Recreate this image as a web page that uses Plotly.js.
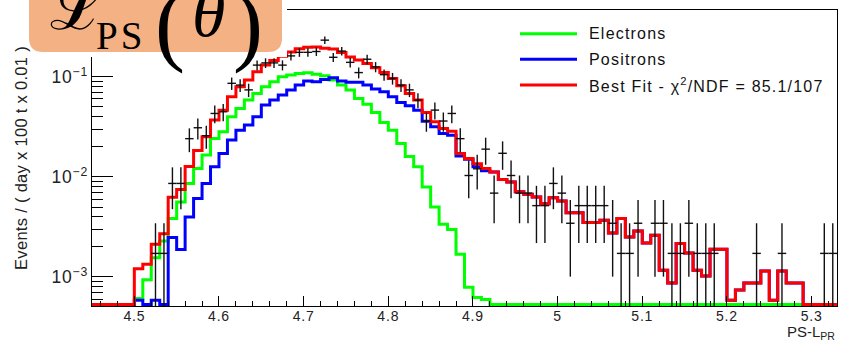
<!DOCTYPE html>
<html><head><meta charset="utf-8">
<script src="https://cdn.plot.ly/plotly-3.0.1.min.js"></script>
<style>
html,body{margin:0;padding:0;background:#fff;}
#chart{width:850px;height:343px;}
g.annotation[data-index="0"] text, g.annotation[data-index="1"] text, g.annotation[data-index="2"] text {letter-spacing:1.2px;}
g.annotation[data-index="4"] text {letter-spacing:3px;}
.xtick text, .ytick text {letter-spacing:0.8px;}
.ytitle {letter-spacing:0.3px;}
</style>
</head><body><div id="chart"></div>
<script>
// ---- data (bins of width 0.01 starting at 4.45) ----
const binStart = 4.45;
const binWidth = 0.01;
const electrons = [
  0,0,0,0,0, 0.00061,0.00094,0.00156,0.00229,0.00384,
  0.00562,0.00859,0.0121,0.0165,0.0242, 0.0282,0.0398,0.0483,0.0585,0.068,
  0.0794,0.0891,0.100,0.104,0.108, 0.1096,0.1057,0.1023,0.0927,0.0826,
  0.0736,0.0608,0.053,0.044,0.035, 0.0293,0.0216,0.0160,0.0126,0.00794,
  0.0050,0.00337,0.00298,0.00169,0.00079, 0.000622,0.000594,0,0,0,
  0,0,0,0,0, 0,0,0,0,0,
  0,0,0,0,0, 0,0,0,0,0,
  0,0,0,0,0, 0,0,0,0,0,
  0,0,0,0,0, 0,0,0
];
const positrons = [
  0,0,0,0,0, 0.000585,0,0.000585,0,0.00248,
  0.00188,0.00398,0.00608,0.00859,0.0126, 0.0171,0.0233,0.0293,0.0329,0.0398,
  0.0521,0.0585,0.0656,0.0736,0.0826, 0.0906,0.0891,0.094,0.0977,0.0906,
  0.0879,0.0879,0.0826,0.0753,0.0708, 0.063,0.0554,0.0513,0.0464,0.036,
  0.0316,0.0271,0.0261,0.0162,0.0150, 0.0126,0.0115,0.0112,0.0094,0.0089,
  0.0071,0.0067,0.0063,0.0054,0.0062, 0.00575,0.00437,0.00437,0.0035,0.0035,
  0.00369,0.00275,0.00384,0.00251,0.00288, 0.00219,0.00261,0.00117,0.00087,0.00216,
  0.00174,0.00117,0.00102,0.00189,0.00189, 0.000585,0.00074,0.00087,0.00087,0.00115,
  0.000585,0.00115,0.00087,0.00087,0, 0,0,0
];
const bestFit = [
  0,0,0,0,0, 0.00121,0.00134,0.00212,0.00270,0.00625,
  0.00748,0.0127,0.0183,0.0251,0.0369, 0.0464,0.0631,0.0794,0.0927,0.112,
  0.131,0.145,0.160,0.177,0.190, 0.197,0.198,0.193,0.189,0.175,
  0.158,0.147,0.136,0.123,0.110, 0.0963,0.0813,0.0682,0.0585,0.044,
  0.0355,0.0305,0.0286,0.0171,0.0153, 0.0135,0.0121,0.0112,0.0094,0.0089,
  0.0071,0.0067,0.0063,0.0054,0.0062, 0.00575,0.00437,0.00437,0.0035,0.0035,
  0.00369,0.00275,0.00384,0.00251,0.00288, 0.00219,0.00261,0.00117,0.00087,0.00216,
  0.00174,0.00117,0.00102,0.00189,0.00189, 0.000585,0.00074,0.00087,0.00087,0.00115,
  0.000585,0.00115,0.00087,0.00087,0, 0,0,0
];
// observed events per bin (counts); one count = countScale in plotted units
const dataCounts = [
  0,0,0,0,0, 0,0,1,1,5,
  5,14,18,15,25, 26,50,48,43,76,
  80,80,76,94,102, 102,104,135,91,105,
  81,64,87,73,61, 56,48,43,34,21,
  27,21,25,14,6, 7,11,4,10,6,
  4,4,3,3,5, 4,2,3,3,3,
  3,2,1,1,2, 0,2,2,1,1,
  2,1,1,1,0, 0,0,0,1,0,
  0,1,0,0,0, 0,1,1
];
const countScale = 0.00172;
const seriesNames = ['Electrons', 'Positrons', 'Best Fit - \u03c7<sup>2</sup>/NDF = 85.1/107'];
const seriesColors = ['#00ff00', '#0000ff', '#ff0000'];
const yTitle = 'Events / ( day x 100 t x 0.01 )';
const xTitle = 'PS-L<sub>PR</sub>';

// ---- geometry ----
const W = 850, H = 343;
const PL = 92, PR = 837, PT = 10, PB = 306;
const yLogMin = -3.29, yLogMax = -0.333;
const floorVal = Math.pow(10, -3.275);
const px = p => (p - PL) / (PR - PL);
const py = p => (PB - p) / (PB - PT);

const nb = bestFit.length;
const edges = [];
for (let i = 0; i <= nb; i++) edges.push(+(binStart + i * binWidth).toFixed(4));
const centers = [];
for (let i = 0; i < nb; i++) centers.push(+(binStart + (i + 0.5) * binWidth).toFixed(4));

function stepTrace(vals, color, name) {
  const y = vals.map(v => (v > floorVal ? v : floorVal));
  y.push(y[y.length - 1]);
  return {x: edges, y: y, type: 'scatter', mode: 'lines', name: name,
    line: {shape: 'hv', color: color, width: 3}, hoverinfo: 'skip', showlegend: false};
}

const traces = [
  stepTrace(electrons, seriesColors[0], seriesNames[0]),
  stepTrace(positrons, seriesColors[1], seriesNames[1]),
  stepTrace(bestFit, seriesColors[2], seriesNames[2]),
  {
    x: centers,
    y: dataCounts.map(n => (n > 0 ? n * countScale : null)),
    type: 'scatter', mode: 'markers', name: 'Data', showlegend: false,
    marker: {size: 1, color: '#000'},
    error_y: {type: 'data', array: dataCounts.map(n => Math.sqrt(n) * countScale),
      arrayminus: dataCounts.map(n => Math.sqrt(n) * countScale),
      color: '#111', thickness: 1.4, width: 0},
    error_x: {type: 'constant', value: binWidth / 2, color: '#111', thickness: 1.4, width: 0}
  }
];

const font = 'Liberation Sans, Arial, sans-serif';
const serif = 'Liberation Serif, DejaVu Serif, serif';

const shapes = [];
const annotations = [];
// legend (drawn inside the frame)
const legY = [33.7, 59.3, 85];
for (let i = 0; i < 3; i++) {
  shapes.push({type: 'line', xref: 'paper', yref: 'paper', x0: px(520), x1: px(577),
    y0: py(legY[i]), y1: py(legY[i]), line: {color: seriesColors[i], width: 3}, layer: 'above'});
  annotations.push({xref: 'paper', yref: 'paper', x: px(587), y: py(legY[i]), xanchor: 'left', align: 'left',
    yanchor: 'middle', text: seriesNames[i], showarrow: false,
    font: {family: font, size: 16, color: '#111'}});
}
// overlay label box
shapes.push({type: 'rect', xref: 'paper', yref: 'paper', x0: px(29), x1: px(287), y0: py(57), y1: py(-5),
  fillcolor: '#ffffff', line: {width: 0}, layer: 'above'});
const bx0 = 29, bx1 = 282, by1 = 52, r = 14;
shapes.push({type: 'path', xref: 'paper', yref: 'paper', layer: 'above', fillcolor: '#F4B183', line: {width: 0},
  path: `M ${px(bx0)} ${py(-5)} L ${px(bx0)} ${py(by1 - r)} Q ${px(bx0)} ${py(by1)} ${px(bx0 + r)} ${py(by1)} ` +
        `L ${px(bx1 - r)} ${py(by1)} Q ${px(bx1)} ${py(by1)} ${px(bx1)} ${py(by1 - r)} L ${px(bx1)} ${py(-5)} Z`});
annotations.push({xref: 'paper', yref: 'paper', x: px(48), y: py(47), xanchor: 'left', yanchor: 'bottom',
  text: '\u2112', showarrow: false, font: {family: 'DejaVu Serif, serif', size: 66, color: '#000'}});
annotations.push({xref: 'paper', yref: 'paper', x: px(94), y: py(59), xanchor: 'left', align: 'left', yanchor: 'bottom',
  text: 'PS', showarrow: false, font: {family: serif, size: 39, color: '#000'}});
annotations.push({xref: 'paper', yref: 'paper', x: px(170), y: py(76), xanchor: 'center', yanchor: 'bottom',
  text: '(', showarrow: false, font: {family: serif, size: 90, color: '#000'}});
annotations.push({xref: 'paper', yref: 'paper', x: px(208), y: py(53), xanchor: 'center', yanchor: 'bottom',
  text: '<i>\u03b8</i>', showarrow: false, font: {family: serif, size: 68, color: '#000'}});
annotations.push({xref: 'paper', yref: 'paper', x: px(248), y: py(76), xanchor: 'center', yanchor: 'bottom',
  text: ')', showarrow: false, font: {family: serif, size: 90, color: '#000'}});
// x-axis title, right aligned
annotations.push({xref: 'paper', yref: 'paper', x: 1, y: py(344), xanchor: 'right', yanchor: 'bottom',
  text: xTitle, showarrow: false, font: {family: font, size: 15, color: '#222'}});

const layout = {
  width: W, height: H,
  margin: {l: PL, r: W - PR, t: PT, b: H - PB, pad: 0},
  paper_bgcolor: '#fff', plot_bgcolor: '#fff',
  showlegend: false,
  xaxis: {
    range: [binStart, edges[edges.length - 1]], tick0: 4.5, dtick: 0.1,
    ticks: 'inside', ticklen: 10, tickwidth: 1, tickcolor: '#000',
    minor: {tick0: 4.5, dtick: 0.02, ticks: 'inside', ticklen: 5, tickcolor: '#000', showgrid: false},
    showline: true, mirror: true, linecolor: '#000', linewidth: 1,
    showgrid: false, zeroline: false, ticklabelstandoff: -3,
    tickfont: {family: font, size: 14, color: '#222'}
  },
  yaxis: {
    type: 'log', range: [yLogMin, yLogMax], dtick: 1, exponentformat: 'power',
    ticks: 'inside', ticklen: 21, tickwidth: 1, tickcolor: '#000',
    minor: {dtick: 'D1', ticks: 'inside', ticklen: 11, tickcolor: '#000', showgrid: false},
    showline: true, mirror: true, linecolor: '#000', linewidth: 1,
    showgrid: false, zeroline: false,
    tickfont: {family: font, size: 14, color: '#222'},
    title: {text: yTitle, font: {family: font, size: 16.5, color: '#222'}, standoff: 19}
  },
  shapes: shapes,
  annotations: annotations
};

Plotly.newPlot('chart', traces, layout, {staticPlot: true, displayModeBar: false});
</script>
</body></html>
